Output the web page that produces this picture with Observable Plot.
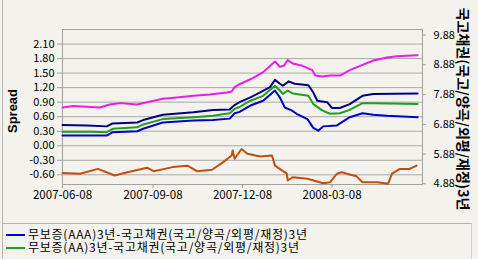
<!DOCTYPE html>
<html><head><meta charset="utf-8">
<script src="https://cdn.jsdelivr.net/npm/d3@7"></script>
<script src="https://cdn.jsdelivr.net/npm/@observablehq/plot@0.6"></script>
<style>
html,body{margin:0;padding:0;background:#f4f2ec;}
#wrap{position:relative;width:478px;height:259px;overflow:hidden;background:#f4f2ec;font-family:"Noto Sans CJK KR",sans-serif;}
#chart{position:absolute;left:0;top:0;}
#edge{position:absolute;left:2px;top:0;width:0;height:259px;border-left:1px solid #b8b4ac;}
#legend{position:absolute;left:2px;top:223px;width:469px;height:40px;border-top:1px solid #b8b4ac;border-right:1px solid #d8d4cc;}
.row{position:absolute;left:0;height:12px;font-size:12px;line-height:12px;white-space:nowrap;color:#000;}
.sw{position:absolute;left:4px;top:5px;width:19px;height:2px;}
.lab{position:absolute;left:26px;top:-1px;letter-spacing:0.75px;}
</style></head><body><div id="wrap"><div id="chart"></div><div id="edge"></div><div id="legend"></div></div>
<script>
// ---- data ----
const leftTicks = [-0.6, -0.3, 0, 0.3, 0.6, 0.9, 1.2, 1.5, 1.8, 2.1];
const rightTicks = [4.88, 5.88, 6.88, 7.88, 8.88, 9.88];
const xTicks = ["2007-06-08", "2007-09-08", "2007-12-08", "2008-03-08"];

const magentaDates = ["2007-06-08","2007-06-19","2007-07-16","2007-07-26","2007-08-06","2007-08-23","2007-09-02","2007-09-18","2007-10-05","2007-10-19","2007-11-05","2007-11-22","2007-11-27","2007-11-30","2007-12-05","2007-12-19","2007-12-29","2008-01-10","2008-01-15","2008-01-19","2008-01-23","2008-01-28","2008-02-07","2008-02-17","2008-02-20","2008-02-27","2008-03-06","2008-03-16","2008-03-26","2008-04-08","2008-04-19","2008-05-03","2008-05-13","2008-06-03"];
const magentaValues = [0.79,0.82,0.79,0.85,0.88,0.85,0.90,0.97,1.00,1.03,1.06,1.10,1.12,1.21,1.27,1.40,1.52,1.74,1.63,1.65,1.77,1.70,1.65,1.56,1.45,1.43,1.45,1.45,1.56,1.67,1.76,1.82,1.85,1.87];

const navyDates = ["2007-06-08","2007-07-03","2007-07-23","2007-07-29","2007-08-23","2007-08-29","2007-09-18","2007-10-19","2007-11-08","2007-11-25","2007-11-30","2007-12-05","2007-12-16","2007-12-26","2008-01-05","2008-01-10","2008-01-15","2008-01-18","2008-01-24","2008-01-30","2008-02-13","2008-02-18","2008-02-22","2008-03-03","2008-03-08","2008-03-16","2008-03-26","2008-04-08","2008-04-19","2008-06-03"];
const navyValues = [0.43,0.42,0.40,0.46,0.48,0.53,0.64,0.69,0.74,0.75,0.84,0.90,1.00,1.10,1.21,1.36,1.28,1.24,1.33,1.28,1.25,1.10,0.93,0.90,0.78,0.78,0.86,1.03,1.07,1.08];

const greenDates = ["2007-06-08","2007-07-09","2007-07-23","2007-07-29","2007-08-23","2007-08-29","2007-09-18","2007-10-19","2007-11-08","2007-11-25","2007-11-30","2007-12-05","2007-12-16","2007-12-29","2008-01-10","2008-01-15","2008-01-18","2008-01-23","2008-01-28","2008-02-13","2008-02-18","2008-02-27","2008-03-06","2008-03-16","2008-03-26","2008-04-08","2008-04-19","2008-06-03"];
const greenValues = [0.29,0.29,0.28,0.35,0.38,0.44,0.55,0.59,0.62,0.67,0.76,0.80,0.93,1.03,1.24,1.14,1.07,1.14,1.08,1.03,0.86,0.73,0.66,0.67,0.74,0.88,0.88,0.86];

const blueDates = ["2007-06-08","2007-07-23","2007-07-29","2007-08-23","2007-08-29","2007-09-18","2007-10-19","2007-11-08","2007-11-25","2007-11-30","2007-12-05","2007-12-16","2007-12-29","2008-01-10","2008-01-15","2008-01-20","2008-01-27","2008-02-01","2008-02-12","2008-02-18","2008-02-23","2008-02-28","2008-03-13","2008-03-26","2008-04-08","2008-04-19","2008-05-03","2008-06-03"];
const blueValues = [0.21,0.21,0.28,0.30,0.35,0.48,0.52,0.53,0.56,0.67,0.70,0.83,0.93,1.14,1.00,0.79,0.73,0.66,0.55,0.37,0.31,0.40,0.42,0.59,0.67,0.64,0.62,0.59];

// 국고채권 3년 yield (right axis)
const brownDates = ["2007-06-08","2007-06-26","2007-07-14","2007-07-31","2007-08-13","2007-09-02","2007-09-09","2007-09-28","2007-10-13","2007-10-23","2007-11-07","2007-11-18","2007-11-27","2007-11-28","2007-11-30","2007-12-07","2007-12-13","2007-12-26","2008-01-07","2008-01-10","2008-01-22","2008-01-23","2008-01-28","2008-02-12","2008-02-28","2008-03-06","2008-03-13","2008-03-18","2008-03-23","2008-04-02","2008-04-08","2008-04-23","2008-05-04","2008-05-08","2008-05-16","2008-05-26","2008-06-02"];
const brownValues = [5.24,5.22,5.38,5.16,5.27,5.42,5.30,5.44,5.49,5.30,5.35,5.60,5.83,6.00,5.72,6.05,5.89,5.80,5.83,5.49,5.22,4.99,5.10,5.05,4.90,4.93,5.22,5.27,5.22,5.13,4.93,4.93,4.88,5.22,5.38,5.38,5.49];

const legendLabels = ["무보증(AAA)3년-국고채권(국고/양곡/외평/재정)3년", "무보증(AA)3년-국고채권(국고/양곡/외평/재정)3년"];
const leftLabel = "Spread";
const rightLabel = "국고채권(국고/양곡/외평/재정)3년";

// ---- build ----
const toLeft = r => -0.785 + (r - 4.88) * 0.614;
const fromLeft = v => 4.88 + (v + 0.785) / 0.614;
const rows = (dates, vals, f = v => v) => dates.map((d, i) => ({date: new Date(d), value: f(vals[i])}));
const series = [
  {data: rows(magentaDates, magentaValues), color: "#e81ee8"},
  {data: rows(navyDates, navyValues), color: "#000080"},
  {data: rows(greenDates, greenValues), color: "#1ea01e"},
  {data: rows(blueDates, blueValues), color: "#0000c8"},
  {data: rows(brownDates, brownValues, toLeft), color: "#c04e0c"}
];
const font = "'Noto Sans CJK KR', sans-serif";
const chart = Plot.plot({
  width: 478, height: 222,
  marginTop: 29, marginBottom: 38, marginLeft: 62, marginRight: 56,
  style: {background: "transparent", fontFamily: font, fontSize: "11px", color: "#000", overflow: "visible"},
  x: {type: "utc", domain: [new Date("2007-06-08"), new Date("2008-06-08")]},
  y: {domain: [-0.80, 2.40]},
  marks: [
    Plot.gridY(leftTicks, {stroke: "#a8a8a8", strokeOpacity: 1}),
    Plot.frame({stroke: "#a0a0a0"}),
    Plot.axisY(leftTicks, {anchor: "left", tickSize: 5, tickPadding: 3, stroke: "#a0a0a0", fill: "#000", tickFormat: d => d.toFixed(2), label: null}),
    Plot.axisY(rightTicks.map(toLeft), {anchor: "right", tickSize: 3, tickPadding: 8, stroke: "#a0a0a0", fill: "#000", tickFormat: d => fromLeft(d).toFixed(2), label: null}),
    Plot.axisX(xTicks.map(d => new Date(d)), {tickSize: 4, tickPadding: 2, stroke: "#a0a0a0", fill: "#000", fontSize: 11.5, tickFormat: d3.utcFormat("%Y-%m-%d"), label: null}),
    ...series.map(s => Plot.line(s.data, {x: "date", y: "value", stroke: s.color, strokeWidth: 2}))
  ]
});
const svg = d3.select(chart);
svg.append("text").attr("transform", "translate(14,111) rotate(-90)")
  .attr("text-anchor", "middle").attr("dominant-baseline", "middle")
  .style("font", "bold 13px 'Liberation Sans', Arial, sans-serif").attr("fill", "#000").text(leftLabel);
svg.append("text").attr("transform", "translate(462,109) rotate(90)")
  .attr("text-anchor", "middle").attr("dominant-baseline", "middle")
  .style("font", "bold 14px 'Noto Sans CJK KR', sans-serif").attr("fill", "#000").text(rightLabel);
document.getElementById("chart").appendChild(chart);

const legend = d3.select("#legend");
const legendColors = [series[3].color, series[2].color];
legendLabels.forEach((t, i) => {
  const r = legend.append("div").attr("class", "row").style("top", (5 + i * 12.7) + "px").style("width", "460px");
  r.append("div").attr("class", "sw").style("background", legendColors[i]);
  r.append("div").attr("class", "lab").text(t);
});
</script></body></html>
